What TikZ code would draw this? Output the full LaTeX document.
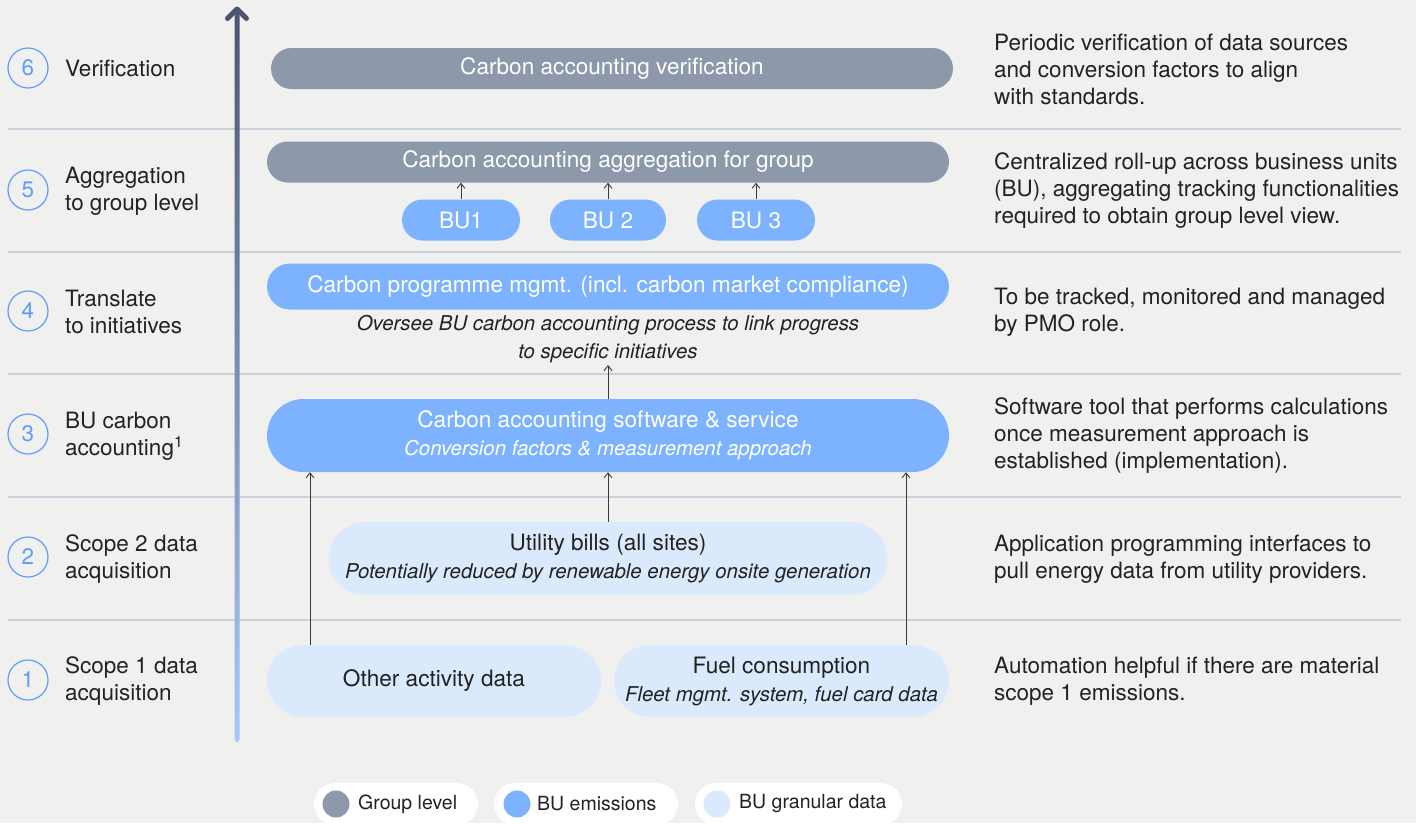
\documentclass[tikz,border=0pt]{standalone}
\usepackage{fontspec}
\setmainfont{TeX Gyre Heros}
\usetikzlibrary{arrows.meta,shapes.misc}

\definecolor{bg}{HTML}{F0F0EF}
\definecolor{grp}{HTML}{8D98AB}
\definecolor{bue}{HTML}{7DB3FE}
\definecolor{bug}{HTML}{DBE9FD}
\definecolor{ink}{HTML}{222222}
\definecolor{sep}{HTML}{C9D1DB}
\definecolor{ring}{HTML}{5E9CFB}
\definecolor{atop}{HTML}{4B5570}
\definecolor{amid}{HTML}{5A8EF6}
\definecolor{abot}{HTML}{A8C8FB}
\definecolor{flowink}{HTML}{3A3A3A}

\newcommand\bodyfont{\fontsize{22.5}{27}\selectfont}
\newcommand\boxfont{\fontsize{22.6}{28}\selectfont}
\newcommand\subfont{\fontsize{20.4}{28}\selectfont\itshape}
\newcommand\legfont{\fontsize{19.5}{24}\selectfont}

\tikzset{
  pillbox/.style={rounded rectangle, inner sep=0pt, align=center, font=\boxfont},
  grpbox/.style={pillbox, fill=grp, text=white},
  buebox/.style={pillbox, fill=bue, text=white},
  bugbox/.style={pillbox, fill=bug, text=ink},
  stepnum/.style={circle, draw=ring, line width=1.2pt, minimum size=40pt,
    inner sep=0pt, text=ring, font=\bodyfont},
  lefttext/.style={anchor=west, align=left, inner sep=0pt, text=ink, font=\bodyfont},
  righttext/.style={anchor=west, align=left, inner sep=0pt, text=ink, font=\bodyfont},
  flow/.style={draw=flowink, line width=1pt,
    -{Straight Barb[length=5pt,width=8pt,line width=0.9pt]}},
  seprule/.style={draw=sep, line width=1.5pt},
  legpill/.style={rounded rectangle, fill=white, inner sep=0pt, minimum height=42pt},
  legdot/.style={circle, inner sep=0pt, minimum size=27pt},
  legtext/.style={anchor=west, inner sep=0pt, text=ink, font=\legfont},
}

\begin{document}
\begin{tikzpicture}[x=1pt,y=-1pt]
  \path[clip] (0,0) rectangle (1416,823);
  \useasboundingbox (0,0) rectangle (1416,823);
  \fill[bg] (0,0) rectangle (1416,823);

  % row separators
  \foreach \yy in {129,252,374,497,620}
    \draw[seprule] (8,\yy) -- (1401,\yy);

  % rising axis with colour gradient
  \shade[top color=atop, middle color=amid, bottom color=abot, rounded corners=2.5pt]
    (234.5,9) rectangle (239.5,742);
  \draw[atop, line width=5pt, line cap=round, line join=round]
    (227.5,18.5) -- (237,9) -- (246.5,18.5);

  % step numbers and names
  \node[stepnum] (n6) at (28,68) {6};
  \node[stepnum] (n5) at (28,190) {5};
  \node[stepnum] (n4) at (28,311) {4};
  \node[stepnum] (n3) at (28,434) {3};
  \node[stepnum] (n2) at (28,557) {2};
  \node[stepnum] (n1) at (28,680) {1};

  \node[lefttext] (l6) at (65,68) {Verification};
  \node[lefttext] (l5) at (65,191) {Aggregation\\to group level};
  \node[lefttext] (l4) at (65,312) {Translate\\to initiatives};
  \node[lefttext] (l3) at (65,436) {BU carbon\\accounting\textsuperscript{1}};
  \node[lefttext] (l2) at (65,559) {Scope 2 data\\acquisition};
  \node[lefttext] (l1) at (65,681) {Scope 1 data\\acquisition};

  % descriptions
  \node[righttext] (r6) at (994,69) {Periodic verification of data sources\\and conversion factors to align\\with standards.};
  \node[righttext] (r5) at (994,191) {Centralized roll-up across business units\\(BU), aggregating tracking functionalities\\required to obtain group level view.};
  \node[righttext] (r4) at (994,312) {To be tracked, monitored and managed\\by PMO role.};
  \node[righttext] (r3) at (994,436) {Software tool that performs calculations\\once measurement approach is\\established (implementation).};
  \node[righttext] (r2) at (994,559) {Application programming interfaces to\\pull energy data from utility providers.};
  \node[righttext] (r1) at (994,681) {Automation helpful if there are material\\scope 1 emissions.};

  % process boxes
  \node[grpbox, minimum width=682pt, minimum height=41pt] (ver) at (612,68.5) {Carbon accounting verification};
  \node[grpbox, minimum width=682pt, minimum height=41pt] (agg) at (608,162) {Carbon accounting aggregation for group};
  \node[buebox, minimum width=118pt, minimum height=41pt] (bu1) at (461,220) {BU1};
  \node[buebox, minimum width=116pt, minimum height=41pt] (bu2) at (608,220) {BU 2};
  \node[buebox, minimum width=118pt, minimum height=41pt] (bu3) at (756,220) {BU 3};
  \node[buebox, minimum width=682pt, minimum height=46pt] (prg) at (608,286.5) {Carbon programme mgmt. (incl. carbon market compliance)};
  \node[align=center, inner sep=0pt, text=ink, font=\subfont] (ovs) at (608,339.5)
    {Oversee BU carbon accounting process to link progress\\to specific initiatives};
  \node[buebox, minimum width=682pt, minimum height=73pt] (sw) at (608,435.5)
    {Carbon accounting software \& service\\{\subfont Conversion factors \& measurement approach}};
  \node[bugbox, minimum width=559pt, minimum height=73pt] (ub) at (608,558.5)
    {Utility bills (all sites)\\{\subfont Potentially reduced by renewable energy onsite generation}};
  \node[bugbox, minimum width=334pt, minimum height=72pt] (oad) at (434,681) {Other activity data};
  \node[bugbox, minimum width=335pt, minimum height=72pt] (fuel) at (781.5,681)
    {Fuel consumption\\{\subfont Fleet mgmt. system, fuel card data}};

  % connectors
  \coordinate (ovtip) at (608,365);
  \coordinate (xl) at (310,0);
  \coordinate (xr) at (906,0);
  \draw[flow] (bu1.north) -- (agg.south -| bu1.north);
  \draw[flow] (bu2.north) -- (agg.south -| bu2.north);
  \draw[flow] (bu3.north) -- (agg.south -| bu3.north);
  \draw[flow] (sw.north) -- (ovtip);
  \draw[flow] (ub.north) -- (sw.south -| ub.north);
  \draw[flow] (oad.north -| xl) -- (sw.south -| xl);
  \draw[flow] (fuel.north -| xr) -- (sw.south -| xr);

  % legend
  \node[legpill, minimum width=164pt] (lg1) at (396,804) {};
  \node[legdot, fill=grp] (ld1) at (336,804) {};
  \node[legtext] (lt1) at (358,804) {Group level};
  \node[legpill, minimum width=184pt] (lg2) at (586,804) {};
  \node[legdot, fill=bue] (ld2) at (517,804) {};
  \node[legtext] (lt2) at (537,804) {BU emissions};
  \node[legpill, minimum width=207pt] (lg3) at (798.5,804) {};
  \node[legdot, fill=bug] (ld3) at (717,804) {};
  \node[legtext] (lt3) at (739,804) {BU granular data};
\end{tikzpicture}
\end{document}
